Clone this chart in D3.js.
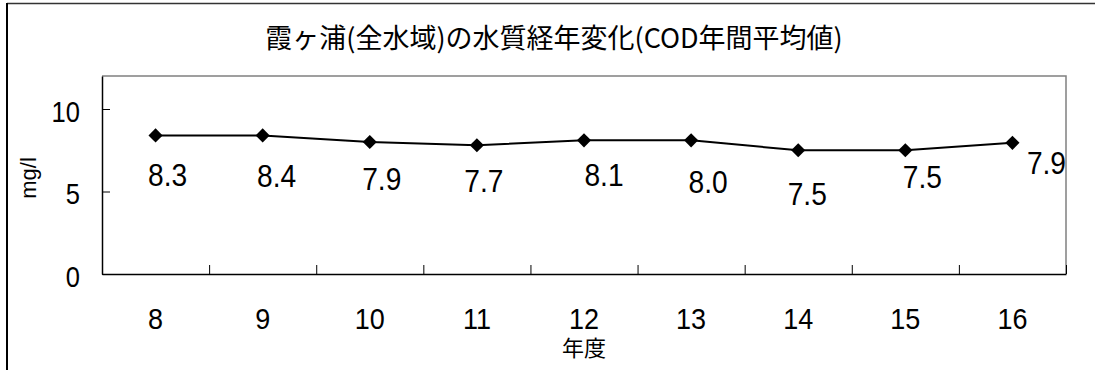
<!DOCTYPE html>
<html>
<head>
<meta charset="utf-8">
<script src="https://cdn.jsdelivr.net/npm/d3@7"></script>
<style>
  body { margin: 0; background: #fff; }
  text { font-family: "Liberation Sans", Arial, sans-serif; fill: #000; }
  .jp { font-family: "Noto Sans CJK JP", sans-serif; }
</style>
</head>
<body>
<script>
var years = ["8", "9", "10", "11", "12", "13", "14", "15", "16"];
var cod = [8.4, 8.4, 8.0, 7.8, 8.1, 8.1, 7.5, 7.5, 7.95];
var codLabels = ["8.3", "8.4", "7.9", "7.7", "8.1", "8.0", "7.5", "7.5", "7.9"];
var yTicks = [0, 5, 10];
var title = "霞ヶ浦(全水域)の水質経年変化(COD年間平均値)";

// label placement, hand-tuned like the original (dx, dy from the marker)
var labelShift = [[12, 39], [14, 40], [12, 36], [7, 35], [20, 34], [17, 41], [9, 43], [17, 26], [34, 20]];

var W = 1095, H = 370;
var pLeft = 102, pRight = 1066, pTop = 76, pBottom = 274;
var squeeze = "scale(0.88,1)";   // the original's numbers are a bit condensed

var svg = d3.select("body")
            .append("svg")
              .attr("width", W)
              .attr("height", H);

svg.append("clipPath")
  .attr("id", "plotclip")
  .append("rect")
    .attr("x", pLeft).attr("y", pTop)
    .attr("width", pRight - pLeft).attr("height", pBottom - pTop);

// outer chart border (cropped at right / bottom)
svg.append("line")
  .attr("x1", 7).attr("y1", 3.5).attr("x2", W).attr("y2", 3.5)
  .attr("stroke", "#333").attr("stroke-width", 1.5);
svg.append("line")
  .attr("x1", 7).attr("y1", 3).attr("x2", 7).attr("y2", H)
  .attr("stroke", "#000").attr("stroke-width", 2);

var x = d3.scaleBand()
  .domain(years)
  .range([pLeft, pRight]);

var y = d3.scaleLinear()
  .domain([0, 12])
  .range([pBottom, pTop]);

// plot frame, grey on top and right
svg.append("path")
  .attr("d", "M" + pLeft + "," + pTop + "H" + pRight + "V" + pBottom)
  .attr("fill", "none")
  .attr("stroke", "#808080")
  .attr("stroke-width", 1.5);

// y axis
var yAxis = svg.append("g")
  .attr("transform", "translate(" + pLeft + ",0)")
  .call(d3.axisLeft(y).tickValues(yTicks).tickSizeInner(-8).tickSizeOuter(0).tickPadding(21));
yAxis.select(".domain").attr("stroke", "#000").attr("stroke-width", 1.5);
yAxis.selectAll(".tick line").attr("stroke", "#000");
yAxis.selectAll("text")
  .attr("x", 0)
  .attr("transform", "translate(-22,0) " + squeeze)
  .attr("dy", "0.42em")
  .style("font-size", "29px");

// x axis labels
var xAxis = svg.append("g")
  .attr("transform", "translate(0," + pBottom + ")")
  .call(d3.axisBottom(x).tickSize(0).tickPadding(34));
xAxis.select(".domain").attr("stroke", "#000").attr("stroke-width", 1.5);
xAxis.selectAll("text")
  .attr("transform", "scale(0.9,1)")
  .style("font-size", "30px");

// x tick marks sit between categories
var edge = d3.scaleLinear().domain([0, years.length]).range([pLeft, pRight]);
var xTickG = svg.append("g")
  .attr("transform", "translate(0," + pBottom + ")")
  .call(d3.axisBottom(edge).tickValues(d3.range(1, years.length + 1)).tickSize(-9).tickFormat(""));
xTickG.select(".domain").remove();
xTickG.selectAll(".tick line").attr("stroke", "#000");

// line
var line = d3.line()
  .x(function(d, i) { return x(years[i]) + x.bandwidth() / 2; })
  .y(function(d) { return y(d); });

svg.append("path")
  .datum(cod)
  .attr("d", line)
  .attr("fill", "none")
  .attr("stroke", "#000")
  .attr("stroke-width", 2);

svg.selectAll(".marker")
  .data(cod)
  .enter()
  .append("path")
    .attr("class", "marker")
    .attr("d", d3.symbol().type(d3.symbolSquare).size(100))
    .attr("transform", function(d, i) {
      return "translate(" + (x(years[i]) + x.bandwidth() / 2) + "," + y(d) + ") rotate(45)";
    })
    .attr("fill", "#000");

svg.append("g")
  .attr("clip-path", "url(#plotclip)")
  .selectAll(".vlabel")
  .data(cod)
  .enter()
  .append("text")
    .attr("class", "vlabel")
    .attr("text-anchor", "middle")
    .attr("transform", function(d, i) {
      var lx = x(years[i]) + x.bandwidth() / 2 + labelShift[i][0];
      var ly = y(d) + labelShift[i][1];
      return "translate(" + lx + "," + ly + ") " + squeeze;
    })
    .attr("dy", "0.36em")
    .style("font-size", "32px")
    .text(function(d, i) { return codLabels[i]; });

// titles
svg.append("text")
  .attr("class", "jp")
  .attr("x", 554)
  .attr("y", 38)
  .attr("dy", "0.36em")
  .attr("text-anchor", "middle")
  .style("font-size", "27px")
  .text(title);

svg.append("text")
  .attr("transform", "translate(28,178) rotate(-90)")
  .attr("dy", "0.36em")
  .attr("text-anchor", "middle")
  .style("font-size", "22px")
  .text("mg/l");

svg.append("text")
  .attr("class", "jp")
  .attr("x", x("12") + x.bandwidth() / 2)
  .attr("y", 348)
  .attr("dy", "0.36em")
  .attr("text-anchor", "middle")
  .style("font-size", "22px")
  .text("年度");
</script>
</body>
</html>
